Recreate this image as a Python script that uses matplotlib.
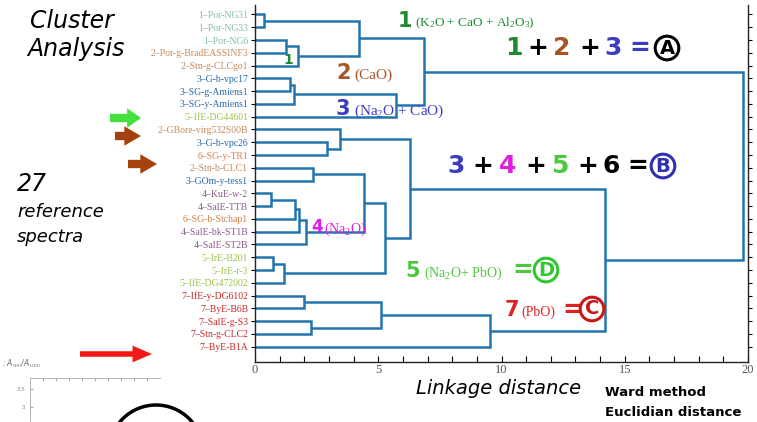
import matplotlib
matplotlib.use("Agg")
import matplotlib.pyplot as plt
from matplotlib.patches import Circle
from matplotlib.ticker import MultipleLocator

plt.rcParams['mathtext.fontset'] = 'custom'
plt.rcParams['mathtext.rm'] = 'Liberation Serif'
plt.rcParams['mathtext.it'] = 'Liberation Serif:italic'
plt.rcParams['mathtext.bf'] = 'Liberation Serif:bold'

# ---------------- data ----------------
leaf_labels = [
    "1–Por-NG31", "1–Por-NG33", "1–Por-NG6", "2–Por-g-BradEASSINF3",
    "2–Stn-g-CLCgo1", "3–G-b-vpc17", "3–SG-g-Amiens1", "3–SG-y-Amiens1",
    "5–IfE-DG44601", "2–GBore-virg532S00B", "3–G-b-vpc26", "6–SG-y-TR1",
    "2–Stn-b-CLC1", "3–GOm-y-tess1", "4–KuE-w-2", "4–SalE-TTB",
    "6–SG-b-Stchap1", "4–SalE-bk-ST1B", "4–SalE-ST2B", "5–IrE-B201",
    "5–IrE-r-3", "5–IfE-DG472002", "7–IfE-y-DG6102", "7–ByE-B6B",
    "7–SalE-g-S3", "7–Stn-g-CLC2", "7–ByE-B1A",
]
# merge list: (child_a, child_b, linkage distance); ids >= 27 are earlier merges
merge_a = [0, 2, 28, 27, 5, 31, 32, 30, 10, 9, 12, 14, 38, 39, 40, 37, 19, 43, 42, 36, 22, 24, 47, 49, 46, 34]
merge_b = [1, 3, 4, 29, 6, 7, 8, 33, 11, 35, 13, 15, 16, 17, 18, 41, 20, 21, 44, 45, 23, 25, 48, 26, 50, 51]
merge_h = [0.37, 1.26, 1.75, 4.20, 1.42, 1.60, 5.70, 6.86, 2.92, 3.45, 2.35, 0.65,
           1.63, 1.78, 2.08, 4.42, 0.72, 1.18, 5.27, 6.30, 1.98, 2.27, 5.10, 9.53,
           14.20, 19.80]
x_ticks = [0, 5, 10, 15, 20]

group_colors = {"1": "#86bba6", "2": "#c48a5c", "3": "#2a68a8", "4": "#8a5a8c",
                "5": "#9cc446", "6": "#d6824a", "7": "#c82828"}
link_color = "#2474ae"

W, H = 757, 422
fig = plt.figure(figsize=(W / 100, H / 100), dpi=100)
fig.patch.set_facecolor("white")
ax = fig.add_axes([255 / W, 1 - 362 / H, (748 - 255) / W, (362 - 5) / H])

n = len(leaf_labels)
pos = {i: (0.0, float(i)) for i in range(n)}
for k, (a, b, h) in enumerate(zip(merge_a, merge_b, merge_h)):
    xa, ya = pos[a]
    xb, yb = pos[b]
    ax.plot([xa, h, h, xb], [ya, ya, yb, yb], color=link_color, lw=1.8,
            solid_joinstyle='miter', solid_capstyle='butt')
    pos[n + k] = (h, (ya + yb) / 2)

ax.set_xlim(0, 20)
ax.set_ylim(27.2, -0.74)
ax.set_yticks(range(n))
ax.set_yticklabels(leaf_labels, family="Liberation Serif", fontsize=7)
for t, lab in zip(ax.get_yticklabels(), leaf_labels):
    t.set_color(group_colors[lab[0]])
ax.set_xticks(x_ticks)
ax.set_xticklabels([str(v) for v in x_ticks], family="Liberation Serif",
                   fontsize=9, color="#555555")
ax.xaxis.set_minor_locator(MultipleLocator(1))
ax.tick_params(axis='x', which='both', direction='in', length=4, width=0.8, pad=1.5)
ax.tick_params(axis='y', which='both', direction='out', length=3, width=0.8,
               right=True, pad=2)
ax.spines['top'].set_visible(False)
for s in ['left', 'right', 'bottom']:
    ax.spines[s].set_linewidth(1.0)
    ax.spines[s].set_color("#222222")


def ptext(x, y, s, **kw):
    kw.setdefault('va', 'center')
    kw.setdefault('ha', 'left')
    return fig.text(x / W, 1 - y / H, s, **kw)


# titles / side text
ptext(30, 21, "Cluster", fontsize=17, style='italic', family="DejaVu Sans")
ptext(27, 49, "Analysis", fontsize=17, style='italic', family="DejaVu Sans")
ptext(17, 184, "27", fontsize=17, style='italic', family="DejaVu Sans")
ptext(17, 212, "reference", fontsize=13, style='italic', family="DejaVu Sans")
ptext(17, 237, "spectra", fontsize=13, style='italic', family="DejaVu Sans")
ptext(416, 388, "Linkage distance", fontsize=14, style='italic', family="DejaVu Sans")
ptext(605, 393, "Ward method", fontsize=9.5, family="DejaVu Sans", weight='bold')
ptext(605, 412, "Euclidian distance", fontsize=9.5, family="DejaVu Sans", weight='bold')

# arrows
def arrow(x1, x2, y, color, width, hw, hl):
    fig.add_artist(plt.Annotation('', xy=(x2, H - y), xytext=(x1, H - y),
                                  xycoords='figure pixels', textcoords='figure pixels',
                                  arrowprops=dict(width=width, headwidth=hw,
                                                  headlength=hl, color=color, lw=0)))

arrow(110, 141, 118, "#44e03c", 6, 14, 10)
arrow(115, 141, 136, "#a3410f", 6, 14, 12)
arrow(128, 157, 164, "#a3410f", 6, 14, 12)
arrow(80, 152, 354, "#f21818", 4, 12, 14)

green_d = "#1f8a34"
brown = "#a85424"
blue = "#3c3cc0"
magenta = "#e020e0"
lgreen = "#4cc83c"
red = "#e02020"

# group labels
ptext(398, 21, "1", fontsize=15, weight='bold', color=green_d)
ptext(415, 23, r"(K$_2$O + CaO + Al$_2$O$_3$)", fontsize=9.5, family="Liberation Serif", color=green_d)
ptext(283, 60, "1", fontsize=10, weight='bold', color=green_d)
ptext(336, 73, "2", fontsize=15, weight='bold', color=brown)
ptext(354, 75, "(CaO)", fontsize=11, family="Liberation Serif", color=brown)
ptext(336, 109, "3", fontsize=15, weight='bold', color=blue)
ptext(354, 111, r"(Na$_2$O + CaO)", fontsize=11, family="Liberation Serif", color=blue)
ptext(311, 227, "4", fontsize=12, weight='bold', color=magenta)
ptext(324, 229, r"(Na$_2$O)", fontsize=10, family="Liberation Serif", color=magenta)
ptext(405, 271, "5", fontsize=15, weight='bold', color=lgreen)
ptext(424, 273, r"(Na$_2$O+ PbO)", fontsize=10, family="Liberation Serif", color=lgreen)
ptext(505, 310, "7", fontsize=15, weight='bold', color=red)
ptext(521, 312, "(PbO)", fontsize=10, family="Liberation Serif", color=red)


def eqn(y, parts):
    for x, s, c in parts:
        ptext(x, y, s, fontsize=18, weight='bold', color=c)


def circled(x, y, s, color, fs=14):
    ptext(x, y, s, fontsize=fs, weight='bold', color=color, ha='center',
          bbox=dict(boxstyle='circle,pad=0.12', fc='none', ec=color, lw=2.2))


eqn(48, [(505, "1", green_d), (527, "+", "black"), (553, "2", brown),
         (579, "+", "black"), (604, "3", blue), (629, "=", blue)])
circled(667, 48, "A", "black")
eqn(166, [(447, "3", blue), (472, "+", "black"), (499, "4", magenta),
          (525, "+", "black"), (551, "5", lgreen), (577, "+", "black"),
          (602, "6", "black"), (627, "=", "black")])
circled(663, 166, "B", "#3030b0")
ptext(512, 270, "=", fontsize=18, weight='bold', color=lgreen)
circled(546, 270, "D", "#30c830")
ptext(562, 310, "=", fontsize=18, weight='bold', color=red)
circled(592, 309, "C", "#c81818")

# fragment of another figure at bottom-left
ins = fig.add_axes([30 / W, 0, 130 / W, 44 / H])
ins.set_xlim(0, 1)
ins.set_ylim(0, 1)
ins.spines['right'].set_visible(False)
ins.spines['bottom'].set_visible(False)
for s in ['left', 'top']:
    ins.spines[s].set_color("#aaaaaa")
    ins.spines[s].set_linewidth(0.6)
ins.tick_params(axis='both', direction='in', length=2, color="#aaaaaa",
                labelsize=4, labelcolor="#888888", bottom=False, labelbottom=False,
                top=True)
ins.set_xticks([0.1, 0.2, 0.3, 0.4, 0.5, 0.6, 0.7, 0.8, 0.9])
ins.set_xticklabels([])
ins.set_yticks([0.35, 0.75])
ins.set_yticklabels(["3", "3.5"])
ptext(2, 364, r": A$_{900}$/A$_{1000}$", fontsize=5.5, color="#666666", style='italic')
fig.add_artist(Circle((156, H - 452), 47, transform=None, fill=False,
                      ec="black", lw=2.5))

fig.savefig("out.png", dpi=100)
